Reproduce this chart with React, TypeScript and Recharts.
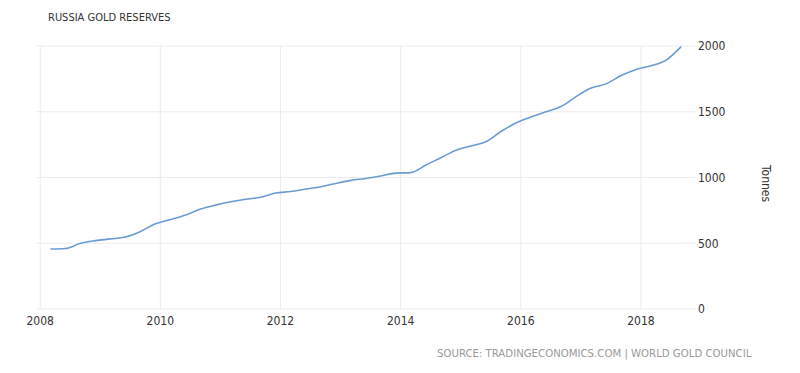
import React from 'react';
import { LineChart, Line, XAxis, YAxis, CartesianGrid, ReferenceLine } from 'recharts';

// quarterly readings, Russia gold reserves (tonnes)
const dates = [
  2008.17, 2008.42, 2008.67, 2008.92, 2009.17, 2009.42, 2009.67, 2009.92,
  2010.17, 2010.42, 2010.67, 2010.92, 2011.17, 2011.42, 2011.67, 2011.92,
  2012.17, 2012.42, 2012.67, 2012.92, 2013.17, 2013.42, 2013.67, 2013.92,
  2014.17, 2014.42, 2014.67, 2014.92, 2015.17, 2015.42, 2015.67, 2015.92,
  2016.17, 2016.42, 2016.67, 2016.92, 2017.17, 2017.42, 2017.67, 2017.92,
  2018.17, 2018.42, 2018.67,
];
const tonnes = [
  456, 460, 500, 520, 533, 548, 590, 648,
  680, 715, 760, 790, 815, 835, 850, 882,
  893, 912, 930, 955, 978, 993, 1012, 1033,
  1037, 1095, 1150, 1208, 1240, 1272, 1350, 1415,
  1460, 1500, 1540, 1615, 1680, 1712, 1775, 1822,
  1850, 1893, 1995,
];
const yearTicks = [2008, 2010, 2012, 2014, 2016, 2018];
const valueTicks = [0, 500, 1000, 1500, 2000];

const data = dates.map((d, i) => ({ date: d, tonnes: tonnes[i] }));

const font = '"DejaVu Sans Condensed", "DejaVu Sans", sans-serif';

const App = () => {
  return (
    <div style={{ position: 'absolute', left: 0, top: 0, width: 800, height: 373, background: '#fff', fontFamily: font }}>
      <div style={{ position: 'absolute', left: 48, top: 11, fontSize: 11, color: '#333' }}>
        RUSSIA GOLD RESERVES
      </div>
      <LineChart
        width={800}
        height={373}
        data={data}
        margin={{ top: 46, left: 36, right: 75, bottom: 34 }}
      >
        <CartesianGrid stroke="#ececec" vertical={false} />
        {/* year gridlines only, no lines at the plot edges */}
        {yearTicks.map((t) => (
          <ReferenceLine key={t} x={t} stroke="#ececec" />
        ))}
        <XAxis
          dataKey="date"
          type="number"
          domain={[2007.93, 2018.9]}
          ticks={yearTicks}
          height={30}
          axisLine={false}
          tickLine={false}
          tickSize={0}
          tickMargin={7}
          tick={{ fill: '#333', fontSize: 12, fontFamily: font }}
        />
        <YAxis
          orientation="right"
          domain={[0, 2000]}
          ticks={valueTicks}
          width={30}
          axisLine={false}
          tickLine={false}
          tickSize={0}
          tickMargin={3}
          tick={{ fill: '#333', fontSize: 12, fontFamily: font, textAnchor: 'start' }}
        />
        <Line
          type="monotone"
          dataKey="tonnes"
          stroke="#6a9bd1"
          strokeWidth={1.6}
          dot={false}
          isAnimationActive={false}
        />
      </LineChart>
      <div
        style={{
          position: 'absolute',
          left: 773,
          top: 165,
          fontSize: 12,
          color: '#333',
          transform: 'rotate(90deg)',
          transformOrigin: 'left top',
          whiteSpace: 'nowrap',
        }}
      >
        Tonnes
      </div>
      <div style={{ position: 'absolute', left: 437, top: 347, fontSize: 11.3, color: '#999', whiteSpace: 'nowrap' }}>
        SOURCE: TRADINGECONOMICS.COM | WORLD GOLD COUNCIL
      </div>
    </div>
  );
};

export default App;
